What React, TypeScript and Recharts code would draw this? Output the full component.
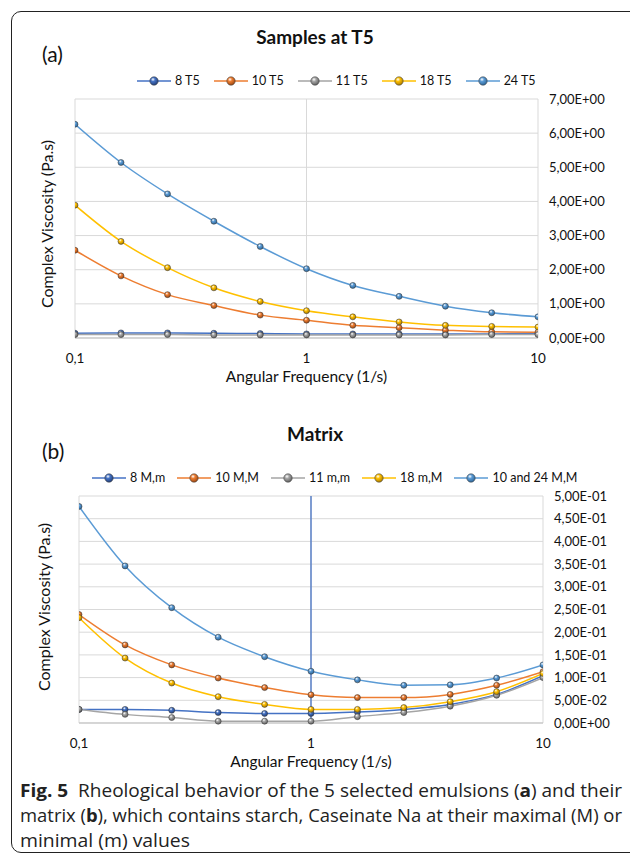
import { LineChart, Line, XAxis, YAxis, CartesianGrid, ReferenceLine } from "recharts"

// angular frequency, 5 points per decade
const freq = [0.1, 0.158, 0.251, 0.398, 0.631, 1, 1.585, 2.512, 3.981, 6.31, 10]

const t5Names = ["8 T5", "10 T5", "11 T5", "18 T5", "24 T5"]
const t5_8 = [0.14, 0.15, 0.15, 0.14, 0.13, 0.12, 0.12, 0.12, 0.12, 0.12, 0.13]
const t5_10 = [2.57, 1.82, 1.27, 0.95, 0.67, 0.52, 0.37, 0.3, 0.23, 0.18, 0.17]
const t5_11 = [0.1, 0.1, 0.1, 0.09, 0.09, 0.09, 0.09, 0.09, 0.09, 0.1, 0.1]
const t5_18 = [3.89, 2.83, 2.06, 1.47, 1.07, 0.8, 0.62, 0.47, 0.37, 0.34, 0.32]
const t5_24 = [6.26, 5.14, 4.22, 3.42, 2.68, 2.03, 1.54, 1.22, 0.93, 0.74, 0.62]

const mNames = ["8 M,m", "10 M,M", "11 m,m", "18 m,M", "10 and 24 M,M"]
const m_8 = [0.03, 0.03, 0.028, 0.023, 0.021, 0.021, 0.024, 0.03, 0.041, 0.063, 0.104]
const m_10 = [0.239, 0.172, 0.128, 0.099, 0.078, 0.062, 0.056, 0.056, 0.063, 0.083, 0.113]
const m_11 = [0.03, 0.019, 0.012, 0.004, 0.004, 0.004, 0.014, 0.023, 0.037, 0.061, 0.1]
const m_18 = [0.232, 0.143, 0.088, 0.058, 0.041, 0.03, 0.03, 0.034, 0.047, 0.069, 0.109]
const m_24 = [0.477, 0.346, 0.254, 0.189, 0.146, 0.114, 0.095, 0.083, 0.084, 0.099, 0.128]

const xTicks = [0.1, 1, 10]
const t5Ticks = [0, 1, 2, 3, 4, 5, 6, 7]
const mTicks = [0, 0.05, 0.1, 0.15, 0.2, 0.25, 0.3, 0.35, 0.4, 0.45, 0.5]

const colors = ["#4472C4", "#ED7D31", "#A5A5A5", "#FFC000", "#5B9BD5"]
const darks = ["#233f78", "#9a4713", "#5e5e5e", "#a87a00", "#2d6596"]

const font = "Lato, 'Open Sans', sans-serif"

const toRows = (series: number[][]) =>
  freq.map((f, i) => {
    const row: Record<string, number> = { f }
    series.forEach((s, k) => (row["s" + k] = s[i]))
    return row
  })

const t5Data = toRows([t5_8, t5_10, t5_11, t5_18, t5_24])
const mData = toRows([m_8, m_10, m_11, m_18, m_24])

// Excel style "7,00E+00"
function fmtE(v: number) {
  if (v === 0) return "0,00E+00"
  let e = Math.floor(Math.log10(v) + 1e-9)
  let m = v / Math.pow(10, e)
  if (m >= 9.995) {
    m = m / 10
    e += 1
  }
  const sign = e < 0 ? "-" : "+"
  return m.toFixed(2).replace(".", ",") + "E" + sign + String(Math.abs(e)).padStart(2, "0")
}

const fmtX = (v: number) => String(v).replace(".", ",")

function Ball(props: any) {
  const { cx, cy, k, r = 5.5 } = props
  if (cx == null || cy == null) return null
  return (
    <circle
      key={props.index}
      cx={cx}
      cy={cy}
      r={r}
      fill={`url(#ball${k})`}
      stroke="#3a3a3a"
      strokeOpacity={0.6}
      strokeWidth={0.9}
    />
  )
}

function Legend({ names, left, top, gap }: { names: string[]; left: number; top: number; gap: number }) {
  return (
    <div
      style={{
        position: "absolute",
        left,
        top,
        display: "flex",
        alignItems: "center",
        fontFamily: font,
        fontSize: 12.5,
        color: "#111",
        whiteSpace: "nowrap",
      }}
    >
      {names.map((n, k) => (
        <div key={n} style={{ display: "flex", alignItems: "center", marginRight: gap }}>
          <svg width={34} height={12} style={{ marginRight: 4 }}>
            <line x1={0} y1={6} x2={34} y2={6} stroke={colors[k]} strokeWidth={1.5} />
            <Ball cx={17} cy={6} k={k} r={4.2} />
          </svg>
          <span>{n}</span>
        </div>
      ))}
    </div>
  )
}

function Panel({
  top,
  title,
  tag,
  names,
  data,
  ticks,
  domainMax,
  plot,
  legendLeft,
  legendGap,
  yTitleX,
  yTitleY,
  blueLine,
}: any) {
  const [pl, pr, pt, pb] = plot
  const H = 400
  return (
    <div style={{ position: "absolute", left: 0, top, width: 630, height: H }}>
      <div
        style={{
          position: "absolute",
          left: 0,
          width: 630,
          top: pt - 74,
          textAlign: "center",
          fontFamily: font,
          fontWeight: 700,
          fontSize: 19,
          color: "#111",
        }}
      >
        {title}
      </div>
      <div
        style={{
          position: "absolute",
          left: 42,
          top: pt - 58,
          fontFamily: font,
          fontSize: 21,
          color: "#111",
        }}
      >
        {tag}
      </div>
      <Legend names={names} left={legendLeft} top={pt - 26} gap={legendGap} />
      <div
        style={{
          position: "absolute",
          left: yTitleX - 120,
          top: yTitleY - 10,
          width: 240,
          textAlign: "center",
          transform: "rotate(-90deg)",
          fontFamily: font,
          fontSize: 16,
          color: "#111",
          lineHeight: "20px",
        }}
      >
        Complex Viscosity (Pa.s)
      </div>
      <div
        style={{
          position: "absolute",
          left: pl,
          width: pr - pl,
          top: pb + 29,
          textAlign: "center",
          fontFamily: font,
          fontSize: 15.5,
          color: "#111",
        }}
      >
        Angular Frequency (1/s)
      </div>
      <LineChart
        width={630}
        height={H}
        data={data}
        margin={{ top: pt, left: pl, right: 0, bottom: 0 }}
        style={{ position: "absolute", left: 0, top: 0 }}
      >
        <CartesianGrid stroke="#d9d9d9" strokeWidth={1} />
        <XAxis
          dataKey="f"
          type="number"
          scale="log"
          domain={[0.1, 10]}
          ticks={xTicks}
          tickFormatter={fmtX}
          allowDataOverflow
          height={H - pb}
          axisLine={{ stroke: "#bfbfbf" }}
          tickLine={false}
          tickMargin={9}
          tick={{ fontFamily: font, fontSize: 13.5, fill: "#111" }}
        />
        <YAxis
          orientation="right"
          type="number"
          domain={[0, domainMax]}
          ticks={ticks}
          interval={0}
          tickFormatter={fmtE}
          width={630 - pr}
          axisLine={false}
          tickLine={false}
          tickMargin={5}
          tick={{ fontFamily: font, fontSize: 13, fill: "#111" }}
        />
        {blueLine && <ReferenceLine x={1} stroke="#4472C4" strokeWidth={1.3} />}
        {names.map((n: string, k: number) => (
          <Line
            key={n}
            dataKey={"s" + k}
            name={n}
            type="monotone"
            stroke={colors[k]}
            strokeWidth={1.5}
            dot={(p: any) => <Ball {...p} k={k} />}
            isAnimationActive={false}
          />
        ))}
      </LineChart>
    </div>
  )
}

export default function App() {
  return (
    <div style={{ position: "absolute", left: 0, top: 0, width: 630, height: 858, background: "#fff", overflow: "hidden" }}>
      <svg width={0} height={0} style={{ position: "absolute" }}>
        <defs>
          {colors.map((c, k) => (
            <radialGradient key={c} id={"ball" + k} cx="38%" cy="32%" r="70%">
              <stop offset="0%" stopColor="#ffffff" stopOpacity={0.95} />
              <stop offset="35%" stopColor={c} />
              <stop offset="100%" stopColor={darks[k]} />
            </radialGradient>
          ))}
        </defs>
      </svg>
      <div
        style={{
          position: "absolute",
          left: 11,
          top: 11,
          width: 640,
          height: 840,
          border: "1.3px solid #222",
          borderRadius: 10,
        }}
      />
      <Panel
        top={0}
        title="Samples at T5"
        tag="(a)"
        names={t5Names}
        data={t5Data}
        ticks={t5Ticks}
        domainMax={7}
        plot={[75, 538, 99, 338]}
        legendLeft={137}
        legendGap={14}
        yTitleX={47}
        yTitleY={224}
      />
      <Panel
        top={397}
        title="Matrix"
        tag="(b)"
        names={mNames}
        data={mData}
        ticks={mTicks}
        domainMax={0.5}
        plot={[79, 543, 99, 326]}
        legendLeft={92}
        legendGap={12}
        yTitleX={44}
        yTitleY={210}
        blueLine
      />
      <svg
        width={630}
        height={90}
        style={{ position: "absolute", left: 0, top: 770 }}
        fontFamily="'Open Sans', sans-serif"
        fontSize={18.5}
        fill="#222"
      >
        <text x={20} y={27} textLength={602} lengthAdjust="spacingAndGlyphs">
          <tspan fontWeight={700}>Fig. 5</tspan>
          <tspan>{"\u00a0 Rheological behavior of the 5 selected emulsions ("}</tspan>
          <tspan fontWeight={700}>a</tspan>
          <tspan>) and their</tspan>
        </text>
        <text x={20} y={52} textLength={602} lengthAdjust="spacingAndGlyphs">
          <tspan>matrix (</tspan>
          <tspan fontWeight={700}>b</tspan>
          <tspan>), which contains starch, Caseinate Na at their maximal (M) or</tspan>
        </text>
        <text x={20} y={77} textLength={170} lengthAdjust="spacingAndGlyphs">
          minimal (m) values
        </text>
      </svg>
    </div>
  )
}
